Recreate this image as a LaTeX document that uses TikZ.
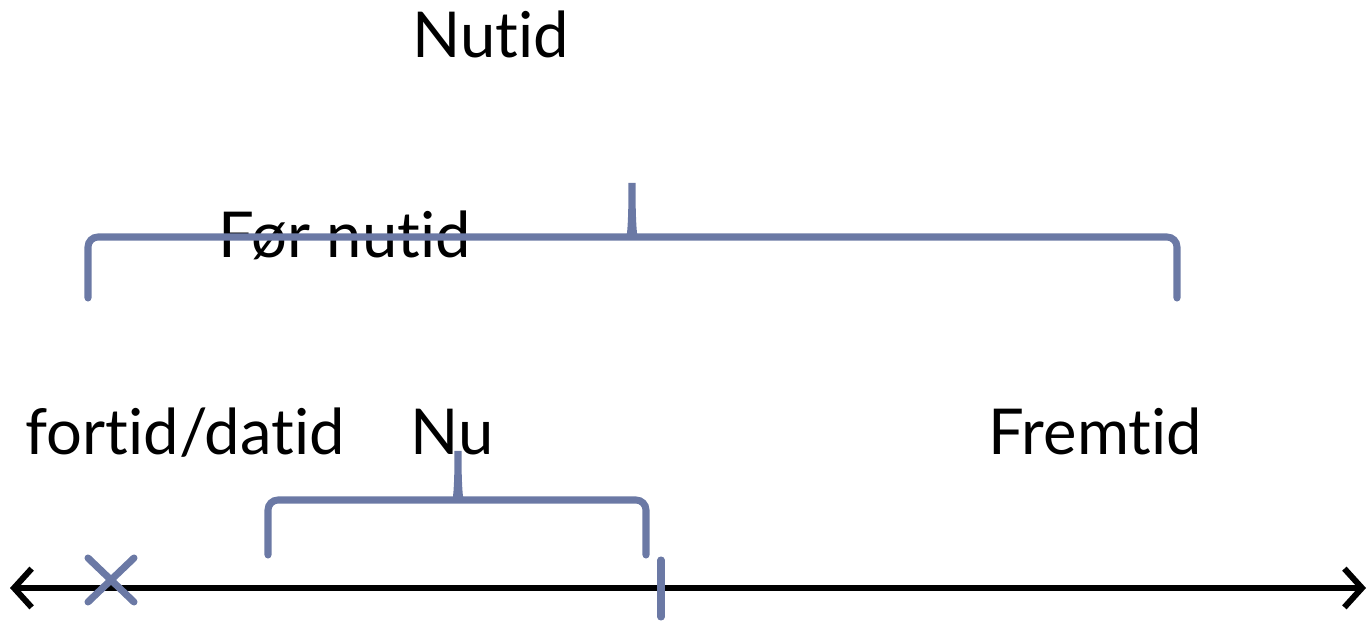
\documentclass[tikz,border=0pt]{standalone}
\usepackage{fontspec}
\setmainfont{Lato}[Ligatures={NoCommon}]
\usepackage{tikz}
\usetikzlibrary{arrows.meta}
\definecolor{klammeblaa}{RGB}{107,121,165}

\begin{document}
\begin{tikzpicture}[x=0.01cm,y=-0.01cm,>={Straight Barb[length=5pt,width=11pt]},klamme/.style={draw=klammeblaa,line width=2pt,line cap=round,rounded corners=0.1cm},tekst/.style={inner sep=0pt,anchor=base west,font=\fontsize{18}{20}\selectfont}]
	\useasboundingbox (0,0) rectangle (1369,622);

	\node[tekst] (nutid) at (412,58) {Nutid};
	\node[tekst] (foernutid) at (218,258) {Før nutid};
	\node[tekst] (fortid) at (25,455) {fortid/datid};
	\node[tekst] (nu) at (410,455) {Nu};
	\node[tekst] (fremtid) at (988,455) {Fremtid};

	% tidslinje
	\coordinate (venstre) at (10,588);
	\coordinate (hoejre) at (1366,588);
	\draw[<->,line width=1.7pt] (venstre) -- (hoejre);
	\draw[klamme] (88,558) -- (134,602) (134,558) -- (88,602);
	\draw[klamme] (661,560) -- (661,617);

	% klammer
	\draw[klamme] (88,298) -- (88,237) -- (620,237) .. controls (630,237) and (632,228) .. (632,177)
		.. controls (632,228) and (634,237) .. (644,237) -- (1177,237) -- (1177,298);
	\draw[klamme] (268,555) -- (268,500) -- (446,500) .. controls (456,500) and (458,492) .. (458,445)
		.. controls (458,492) and (460,500) .. (470,500) -- (646,500) -- (646,555);
\end{tikzpicture}
\end{document}
